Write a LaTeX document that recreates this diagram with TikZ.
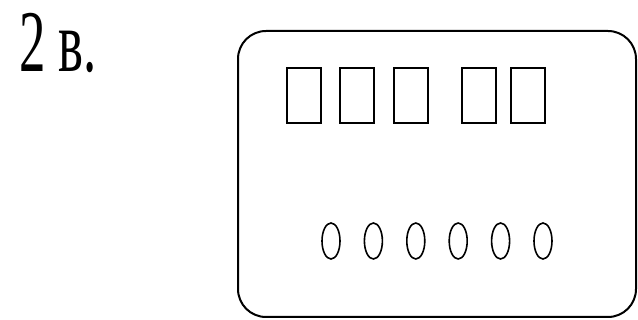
\documentclass[tikz,border=0pt]{standalone}
\usepackage{fontspec}
\setmainfont{Liberation Serif}
\usetikzlibrary{shapes.geometric}
\tikzset{
  panel/.style={draw, line width=2pt, rounded corners=28pt},
  keybox/.style={draw, line width=2pt, minimum width=34pt, minimum height=55pt, inner sep=0pt},
  lamp/.style={draw, ellipse, line width=1.6pt, minimum width=18pt, minimum height=36pt, inner sep=0pt}
}

\begin{document}
\begin{tikzpicture}[x=1pt, y=-1pt]
  \useasboundingbox (0,0) rectangle (638,320);

  % task label
  \node[anchor=base west, inner sep=0pt, xscale=0.6,
        font=\fontsize{88}{88}\selectfont] (label) at (19,72) {2 в.};

  % device front
  \node[panel, minimum width=398pt, minimum height=286pt] (front) at (437,174) {};

  % row of keys
  \foreach \n/\x in {1/304, 2/357, 3/411, 4/479, 5/528} {
    \node[keybox] (key\n) at (\x,96) {};
  }

  % row of lamps
  \foreach \n in {1,...,6} {
    \pgfmathsetmacro{\x}{331+(\n-1)*42.4}
    \node[lamp] (lamp\n) at (\x,241) {};
  }
\end{tikzpicture}
\end{document}
